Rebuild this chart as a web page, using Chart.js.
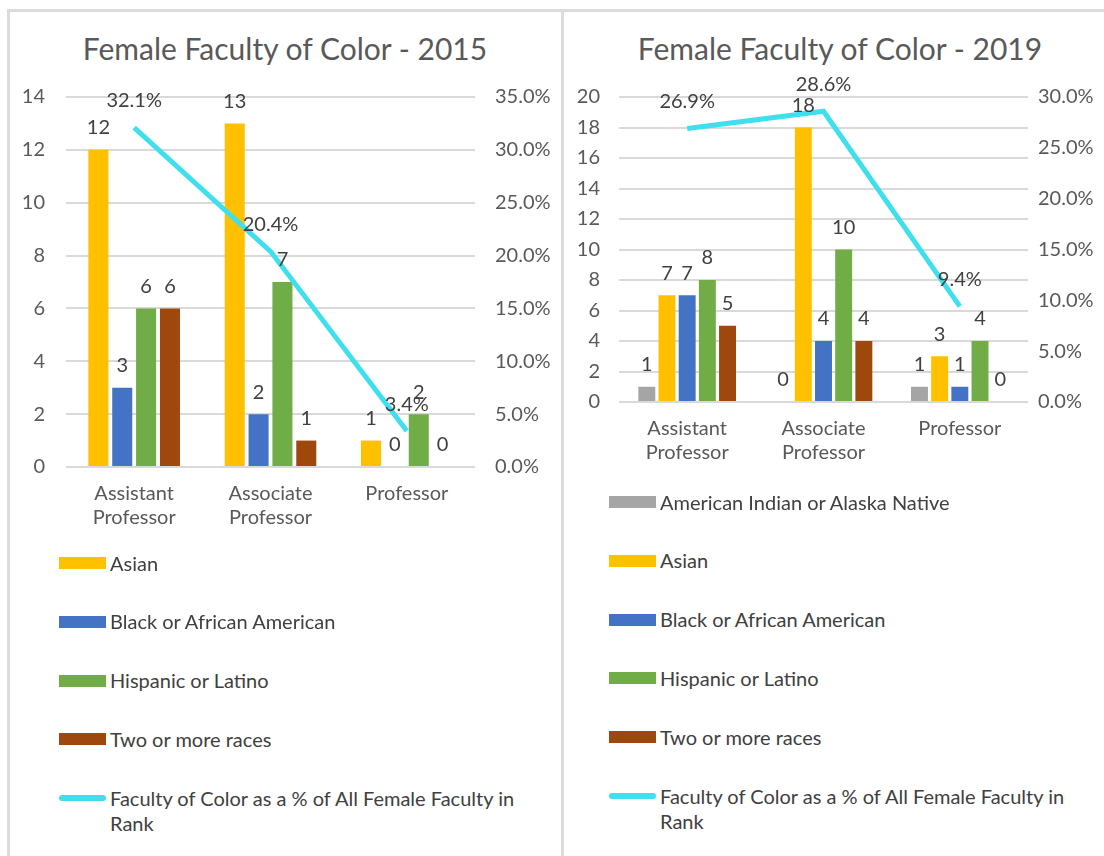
<!DOCTYPE html>
<html>
<head>
<meta charset="utf-8">
<script src="https://cdn.jsdelivr.net/npm/chart.js@4/dist/chart.umd.min.js"></script>
<style>
  html, body { margin: 0; padding: 0; background: #fff; }
  body { width: 1104px; height: 856px; position: relative; overflow: hidden; font-family: Lato, "Open Sans", sans-serif; color: #404040; }
  .panel { position: absolute; top: 9px; height: 900px; border-top: 3px solid #dcdcdc; box-sizing: border-box; }
  #p1 { left: 7px; width: 557px; border-left: 3px solid #dcdcdc; border-right: 3px solid #dcdcdc; }
  #p2 { left: 564px; width: 560px; }
  .title { position: absolute; top: 30px; font-size: 30px; color: #595959; white-space: nowrap; transform: translateX(-50%); }
  canvas { position: absolute; }
  .leg { position: absolute; font-size: 20px; color: #404040; line-height: 25px; white-space: nowrap; }
  .sw { position: absolute; width: 47px; height: 12px; }
  .sw.ln { height: 6px; border-radius: 3px; }
</style>
</head>
<body>
<div class="panel" id="p1"></div>
<div class="panel" id="p2"></div>
<div class="title" style="left:285px">Female Faculty of Color - 2015</div>
<div class="title" style="left:840px">Female Faculty of Color - 2019</div>
<canvas id="c2015" width="544" height="540" style="left:10px;top:12px"></canvas>
<canvas id="c2019" width="540" height="480" style="left:564px;top:12px"></canvas>
<div id="leg2015"></div>
<div id="leg2019"></div>

<script>
//Data
const ranks = [['Assistant', 'Professor'], ['Associate', 'Professor'], 'Professor'];

const asian15 = [12, 13, 1];
const black15 = [3, 2, 0];
const hispanic15 = [6, 7, 2];
const twoPlus15 = [6, 1, 0];
const pct15 = [32.1, 20.4, 3.4];

const amInd19 = [1, 0, 1];
const asian19 = [7, 18, 3];
const black19 = [7, 4, 1];
const hispanic19 = [8, 10, 4];
const twoPlus19 = [5, 4, 0];
const pct19 = [26.9, 28.6, 9.4];

//Colors
const cGray = '#a5a5a5';
const cYellow = '#ffc000';
const cBlue = '#4472c4';
const cGreen = '#70ad47';
const cBrown = '#9e480e';
const cLine = '#3fdfee';

const lineName = 'Faculty of Color as a % of All Female Faculty in Rank';

//Value labels above bars and line points
const valueLabels = {
  id: 'valueLabels',
  afterDatasetsDraw(chart) {
    const ctx = chart.ctx;
    ctx.save();
    ctx.font = '20px Lato, "Open Sans", sans-serif';
    ctx.fillStyle = '#404040';
    ctx.textAlign = 'center';
    ctx.textBaseline = 'middle';
    chart.data.datasets.forEach(function(ds, i) {
      let meta = chart.getDatasetMeta(i);
      meta.data.forEach(function(el, j) {
        let v = ds.data[j];
        if (ds.type === 'line') {
          ctx.fillText(v.toFixed(1) + '%', el.x, el.y - 27);
        } else {
          ctx.fillText(String(v), el.x, el.y - 22);
        }
      });
    });
    ctx.restore();
  }
};

function bar(label, data, color) {
  return { type: 'bar', label: label, data: data, backgroundColor: color, borderWidth: 0, yAxisID: 'y', order: 1 };
}

function makeChart(id, bars, pct, o) {
  let sets = bars.slice();
  sets.push({
    type: 'line', label: lineName, data: pct, yAxisID: 'y1', order: 0,
    borderColor: cLine, borderWidth: 5, pointRadius: 0, tension: 0, borderCapStyle: 'butt'
  });
  let tickFont = { family: 'Lato, "Open Sans", sans-serif', size: 20 };
  return new Chart(document.getElementById(id), {
    data: { labels: ranks, datasets: sets },
    plugins: [valueLabels],
    options: {
      responsive: false,
      animation: false,
      events: [],
      layout: { padding: { top: 85, left: 0, right: 0, bottom: 0 } },
      datasets: { bar: { categoryPercentage: o.catPct, barPercentage: 0.84 } },
      plugins: { legend: { display: false }, tooltip: { enabled: false }, title: { display: false } },
      scales: {
        x: {
          grid: { display: false, drawTicks: false },
          border: { display: false },
          ticks: { color: '#595959', font: tickFont, padding: 15, maxRotation: 0, autoSkip: false },
          afterFit: function(s) { s.height = o.xH; }
        },
        y: {
          position: 'left', min: 0, max: o.yMax,
          grid: { color: '#d9d9d9', lineWidth: 2, drawTicks: false },
          border: { display: false },
          ticks: { stepSize: 2, color: '#595959', font: tickFont, padding: o.yPad },
          afterFit: function(s) { s.width = o.yW; }
        },
        y1: {
          position: 'right', min: 0, max: o.pMax,
          grid: { display: false, drawTicks: false },
          border: { display: false },
          ticks: { stepSize: 5, color: '#595959', font: tickFont, padding: o.pPad,
            callback: function(v) { return v.toFixed(1) + '%'; } },
          afterFit: function(s) { s.width = o.pW; }
        }
      }
    }
  });
}

//Charts
makeChart('c2015', [
  bar('Asian', asian15, cYellow),
  bar('Black or African American', black15, cBlue),
  bar('Hispanic or Latino', hispanic15, cGreen),
  bar('Two or more races', twoPlus15, cBrown)
], pct15, { yMax: 14, pMax: 35, catPct: 0.70, xH: 85, yW: 56, pW: 79, yPad: 21, pPad: 20 });

makeChart('c2019', [
  bar('American Indian or Alaska Native', amInd19, cGray),
  bar('Asian', asian19, cYellow),
  bar('Black or African American', black19, cBlue),
  bar('Hispanic or Latino', hispanic19, cGreen),
  bar('Two or more races', twoPlus19, cBrown)
], pct19, { yMax: 20, pMax: 30, catPct: 0.74, xH: 90, yW: 55, pW: 76, yPad: 19, pPad: 10 });

//Legends
function legend(id, items, swX, textX, firstY) {
  let box = document.getElementById(id);
  items.forEach(function(it, i) {
    let cy = firstY + i * 58.8;
    let sw = document.createElement('div');
    sw.className = it.line ? 'sw ln' : 'sw';
    sw.style.background = it.color;
    sw.style.left = swX + 'px';
    sw.style.top = (cy - (it.line ? 3 : 6)) + 'px';
    box.appendChild(sw);
    let t = document.createElement('div');
    t.className = 'leg';
    t.style.left = textX + 'px';
    t.style.top = (cy - 12.5) + 'px';
    t.innerHTML = it.text;
    box.appendChild(t);
  });
}

legend('leg2015', [
  { text: 'Asian', color: cYellow },
  { text: 'Black or African American', color: cBlue },
  { text: 'Hispanic or Latino', color: cGreen },
  { text: 'Two or more races', color: cBrown },
  { text: 'Faculty of Color as a % of All Female Faculty in<br>Rank', color: cLine, line: true }
], 59, 110, 563);

legend('leg2019', [
  { text: 'American Indian or Alaska Native', color: cGray },
  { text: 'Asian', color: cYellow },
  { text: 'Black or African American', color: cBlue },
  { text: 'Hispanic or Latino', color: cGreen },
  { text: 'Two or more races', color: cBrown },
  { text: 'Faculty of Color as a % of All Female Faculty in<br>Rank', color: cLine, line: true }
], 609, 660, 502);
</script>
</body>
</html>
